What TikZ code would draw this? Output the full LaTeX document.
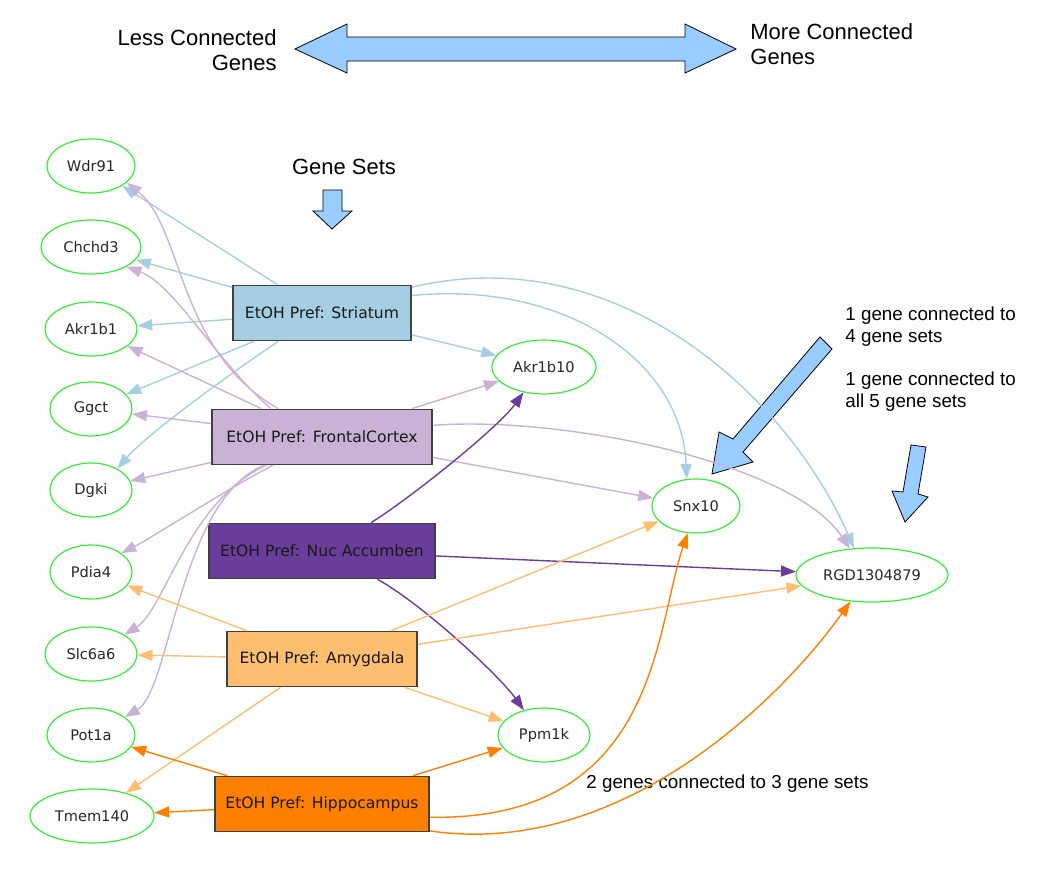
\documentclass[tikz,border=0pt]{standalone}
\usepackage{fontspec}
\setmainfont{Liberation Sans}
\newfontfamily\gvfont{DejaVu Sans}
\usetikzlibrary{shapes.geometric,arrows.meta}
\definecolor{cStr}{HTML}{A6CEE3}
\definecolor{cFro}{HTML}{CAB2D6}
\definecolor{cNuc}{HTML}{6A3D9A}
\definecolor{cAmy}{HTML}{FDBF6F}
\definecolor{cHip}{HTML}{FF7F00}
\definecolor{cGene}{HTML}{33EE33}
\definecolor{cBig}{HTML}{99CCFF}
\tikzset{
  gene/.style={ellipse, draw=cGene, line width=0.6pt, minimum height=27pt, inner sep=1pt, text=black!85, font=\gvfont\fontsize{7.3}{8}\selectfont},
  geneset/.style={rectangle, draw=black!75, line width=0.8pt, fill=#1, minimum height=27.5pt, inner sep=1pt, text=black!90, font=\gvfont\fontsize{7.8}{9}\selectfont},
  conn/.style={draw=#1, line width=0.7pt, -{Triangle[length=7.5pt,width=5.5pt]}},
  bigarrow/.style={fill=cBig, draw=black, line width=0.4pt},
  note/.style={font=\fontsize{9.4}{11}\selectfont, align=left, inner sep=0pt}
}
\begin{document}
\begin{tikzpicture}[x=0.5pt, y=-0.5pt]
\useasboundingbox (0,0) rectangle (1051,884);
% legend
\draw [bigarrow] (295,49) -- (347,24) -- (347,37) -- (685,37) -- (685,24) -- (736,49) -- (685,73) -- (685,61) -- (347,61) -- (347,73) -- cycle;
\node [font=\fontsize{11}{12.5}\selectfont, align=right, anchor=east, inner sep=0pt] (less) at (277,50) {Less Connected\\Genes};
\node [font=\fontsize{11}{12.5}\selectfont, align=left, anchor=west, inner sep=0pt] (more) at (750,44) {More Connected\\Genes};
\node [font=\fontsize{11}{12}\selectfont, inner sep=0pt] (gs) at (344,167) {Gene Sets};
\draw [bigarrow] (323,190) -- (342,190) -- (342,211) -- (352,211) -- (332,229) -- (313,211) -- (323,211) -- cycle;
\draw [bigarrow] (820,337) -- (832,349) -- (743,452) -- (753,462) -- (712,474) -- (719,432) -- (733,439) -- cycle;
\draw [bigarrow] (911,445) -- (926,447) -- (918,494) -- (928,497) -- (905,522) -- (892,491) -- (903,492) -- cycle;
\node [note, anchor=west] (n4) at (845,327) {1 gene connected to\\4 gene sets};
\node [note, anchor=west] (n5) at (845,392) {1 gene connected to\\all 5 gene sets};
\node [note, anchor=west] (n3) at (586,784) {2 genes connected to 3 gene sets};
% gene sets
\node [geneset=cStr, minimum width=89pt] (st) at (322,313) {EtOH Pref: Striatum};
\node [geneset=cFro, minimum width=110pt] (fc) at (322,437) {EtOH Pref: FrontalCortex};
\node [geneset=cNuc, minimum width=113pt] (na) at (322,551) {EtOH Pref: Nuc Accumben};
\node [geneset=cAmy, minimum width=95pt] (am) at (322,659) {EtOH Pref: Amygdala};
\node [geneset=cHip, minimum width=107pt] (hp) at (322,804) {EtOH Pref: Hippocampus};
% genes
\node [gene, minimum width=44pt] (wdr) at (91,166) {Wdr91};
\node [gene, minimum width=50pt] (chc) at (91,247) {Chchd3};
\node [gene, minimum width=46pt] (akr1) at (91,329) {Akr1b1};
\node [gene, minimum width=41pt] (ggct) at (91,409) {Ggct};
\node [gene, minimum width=41pt] (dgki) at (91,490) {Dgki};
\node [gene, minimum width=41pt] (pdia) at (91,572) {Pdia4};
\node [gene, minimum width=46pt] (slc) at (91,654) {Slc6a6};
\node [gene, minimum width=44pt] (pot) at (91,735) {Pot1a};
\node [gene, minimum width=62pt] (tmem) at (92,816) {Tmem140};
\node [gene, minimum width=52pt] (akr10) at (544,367) {Akr1b10};
\node [gene, minimum width=44pt] (snx) at (696,506) {Snx10};
\node [gene, minimum width=76pt] (rgd) at (872,575) {RGD1304879};
\node [gene, minimum width=46pt] (ppm) at (544,735) {Ppm1k};
% Striatum
\draw [conn=cStr] (st) -- (wdr);
\draw [conn=cStr] (st) -- (chc);
\draw [conn=cStr] (st) -- (akr1);
\draw [conn=cStr] (st) -- (ggct);
\draw [conn=cStr] (st.213) .. controls +(-45,30) and +(30,-35) .. (dgki.39);
\draw [conn=cStr] (st) -- (akr10);
\draw [conn=cStr] (st.11) .. controls +(150,-15) and +(-5,-120) .. (snx.109);
\draw [conn=cStr] (st.16) .. controls +(208,-50) and +(-64,-148) .. (rgd.124);
% FrontalCortex
\draw [conn=cFro] (fc.147) .. controls +(-102,-58) and +(57,45) .. (wdr.-25);
\draw [conn=cFro] (fc.151) .. controls +(-55,-48) and +(48,18) .. (chc.-29);
\draw [conn=cFro] (fc) -- (akr1);
\draw [conn=cFro] (fc) -- (ggct);
\draw [conn=cFro] (fc) -- (dgki);
\draw [conn=cFro] (fc.210) .. controls +(-40,20) and +(30,-15) .. (pdia.32);
\draw [conn=cFro] (fc.207) .. controls +(-78,35) and +(40,-25) .. (slc.30);
\draw [conn=cFro] (fc.206) .. controls +(-85,35) and +(46,-27) .. (pot.28);
\draw [conn=cFro] (fc) -- (akr10);
\draw [conn=cFro] (fc) -- (snx);
\draw [conn=cFro] (fc.6) .. controls +(127,-10) and +(-58,-87) .. (rgd.130);
% Nuc Accumben
\draw [conn=cNuc] (na.30) .. controls +(40,-25) and +(-25,35) .. (akr10.231);
\draw [conn=cNuc] (na) -- (rgd);
\draw [conn=cNuc] (na.-27) .. controls +(45,25) and +(-25,-35) .. (ppm.129);
% Amygdala
\draw [conn=cAmy] (am) -- (pdia);
\draw [conn=cAmy] (am) -- (slc);
\draw [conn=cAmy] (am) -- (tmem);
\draw [conn=cAmy] (am) -- (ppm);
\draw [conn=cAmy] (am) -- (snx);
\draw [conn=cAmy] (am) -- (rgd);
% Hippocampus
\draw [conn=cHip] (hp) -- (pot);
\draw [conn=cHip] (hp) -- (tmem);
\draw [conn=cHip] (hp) -- (ppm);
\draw [conn=cHip] (hp.-7) .. controls +(228,4) and +(-33,97) .. (snx.253);
\draw [conn=cHip] (hp.-14) .. controls +(190,28) and +(-71,99) .. (rgd.231);
\end{tikzpicture}
\end{document}
